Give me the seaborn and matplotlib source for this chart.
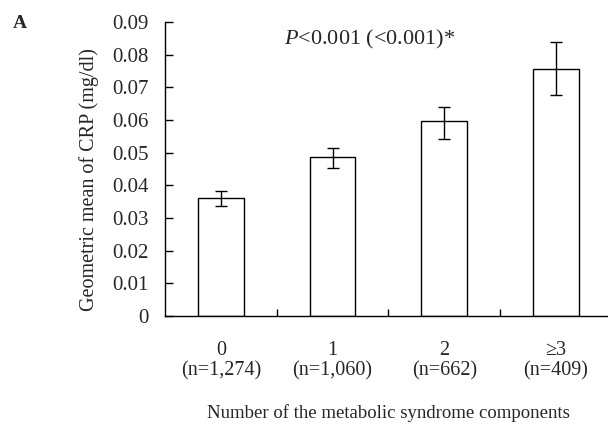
import numpy as np
import pandas as pd
import matplotlib
matplotlib.use("Agg")
import matplotlib.pyplot as plt
import seaborn as sns

categories = ["0", "1", "2", "\u22653"]
n_labels = ["(n=1,274)", "(n=1,060)", "(n=662)", "(n=409)"]
means = [0.0362, 0.0488, 0.0596, 0.0757]
ci_low = [0.0337, 0.0454, 0.0542, 0.0676]
ci_high = [0.0383, 0.0515, 0.0641, 0.0838]
yticks = [0, 0.01, 0.02, 0.03, 0.04, 0.05, 0.06, 0.07, 0.08, 0.09]
ytick_labels = ["0", "0.01", "0.02", "0.03", "0.04", "0.05", "0.06", "0.07", "0.08", "0.09"]

sns.set_style("white")
plt.rcParams["font.family"] = ["Liberation Serif", "DejaVu Serif"]
plt.rcParams["mathtext.fontset"] = "custom"
plt.rcParams["mathtext.rm"] = "Liberation Serif"
plt.rcParams["mathtext.it"] = "Liberation Serif:italic"

df = pd.DataFrame({"cat": categories, "mean": means})

fig = plt.figure(figsize=(6.08, 4.28), dpi=100)
ax = fig.add_axes([0.2714, 0.2617, 0.735, 0.6869])

sns.barplot(data=df, x="cat", y="mean", order=categories, width=0.41,
            color="white", edgecolor="black", linewidth=1.0, errorbar=None, ax=ax)

x = np.arange(len(categories))
m = np.array(means)
yerr = np.vstack([m - np.array(ci_low), np.array(ci_high) - m])
ax.errorbar(x, m, yerr=yerr, fmt="none", ecolor="black", elinewidth=1.0,
            capsize=4.5, capthick=1.0)

ax.set_xlim(-0.5, len(categories) - 0.5)
ax.set_ylim(0, 0.09)
ax.set_yticks(yticks)
ax.set_yticklabels(ytick_labels, fontsize=15)
ax.set_xticks(x)
ax.set_xticklabels([f"{c}\n{n}" for c, n in zip(categories, n_labels)],
                   fontsize=14.5, linespacing=1.1)
ax.set_xticks(np.arange(len(categories) - 1) + 0.5, minor=True)
ax.tick_params(axis="x", which="major", length=0, pad=18)
ax.tick_params(axis="x", which="minor", bottom=True, direction="in", length=5,
               width=1, color="black")
ax.tick_params(axis="y", direction="in", length=6, width=1, color="black", pad=12,
               left=True)

for s in ["top", "right"]:
    ax.spines[s].set_visible(False)
for s in ["left", "bottom"]:
    ax.spines[s].set_color("black")
    ax.spines[s].set_linewidth(1.0)

ax.set_xlabel("Number of the metabolic syndrome components", fontsize=13.5, labelpad=17)
ax.set_ylabel("Geometric mean of CRP (mg/dl)", fontsize=14.5)
ax.yaxis.set_label_coords(-0.147, 0.463)

ax.text(0.459, 0.939, r"$\it{P}$<0.001 (<0.001)*", transform=ax.transAxes,
        ha="center", va="center", fontsize=16)
fig.text(0.021, 0.945, "A", fontsize=14, fontweight="bold", ha="left", va="center")

fig.savefig("out.png", dpi=100)
